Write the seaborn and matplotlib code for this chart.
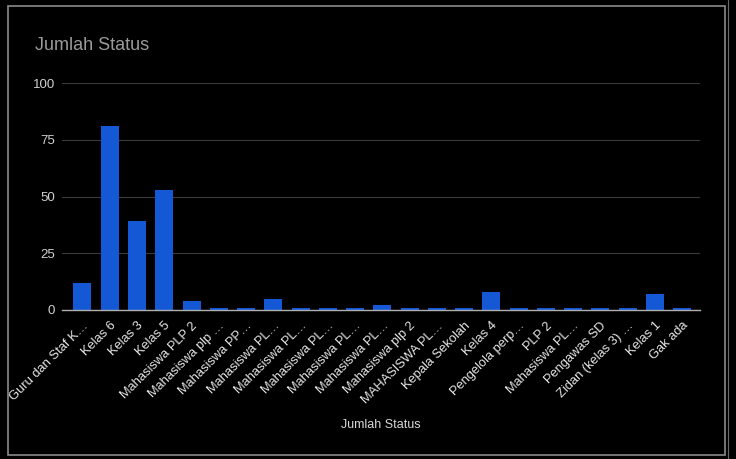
import matplotlib
matplotlib.use("Agg")
import matplotlib.pyplot as plt
import seaborn as sns
import pandas as pd
import numpy as np
from matplotlib.patches import Rectangle

categories = [
    "Guru dan Staf K…", "Kelas 6", "Kelas 3", "Kelas 5", "Mahasiswa PLP 2",
    "Mahasiswa plp …", "Mahasiswa PP…", "Mahasiswa PL…", "Mahasiswa PL…",
    "Mahasiswa PL…", "Mahasiswa PL…", "Mahasiswa PL…", "Mahasiswa plp 2",
    "MAHASISWA PL…", "Kepala Sekolah", "Kelas 4", "Pengelola perp…", "PLP 2",
    "Mahasiswa PL…", "Pengawas SD", "Zidan (kelas 3) …", "Kelas 1", "Gak ada",
]
values = [12, 81, 39, 53, 4, 1, 1, 5, 1, 1, 1, 2, 1, 1, 1, 8, 1, 1, 1, 1, 1, 7, 1]
y_ticks = [0, 25, 50, 75, 100]

df = pd.DataFrame({"idx": [str(i) for i in range(len(categories))], "val": values})

sns.set_theme(style="dark")
plt.rcParams['font.family'] = ['Liberation Sans', 'DejaVu Sans']

fig = plt.figure(figsize=(7.36, 4.59), dpi=100, facecolor="black")
ax = fig.add_axes([62/736, 1-310/459, (700-62)/736, (310-83)/459])
ax.set_facecolor("black")

sns.barplot(data=df, x="idx", y="val", color="#1558d6", saturation=1,
            width=0.66, ax=ax, order=df["idx"].tolist(), linewidth=0,
            edgecolor="none")

ax.set_ylim(0, 100)
ax.set_xlim(-0.75, len(categories) - 0.35)
ax.set_yticks(y_ticks)
ax.set_yticklabels([str(t) for t in y_ticks], color="#d0d0d0", fontsize=9.5)
ax.set_xticks(range(len(categories)))
ax.set_xticklabels(categories, rotation=45, ha="right", rotation_mode="anchor",
                   color="#e6e6e6", fontsize=9.3)
ax.tick_params(axis="both", length=0, pad=5)
ax.tick_params(axis="x", pad=7)
ax.grid(axis="y", color="#3a3a3a", linewidth=0.8)
ax.grid(axis="x", visible=False)
ax.set_axisbelow(True)
for s in ["top", "right", "left"]:
    ax.spines[s].set_visible(False)
ax.spines["bottom"].set_color("#b0b0b0")
ax.spines["bottom"].set_linewidth(1)
ax.set_ylabel("")
ax.set_xlabel("")

fig.text(381/736, 1-425/459, "Jumlah Status", color="#d8d8d8", fontsize=9,
         ha="center", va="center")
fig.text(35/736, 1-46/459, "Jumlah Status", color="#9a9a9a", fontsize=13,
         ha="left", va="center")

fig.patches.append(Rectangle((8/736, 1-455/459), (725-8)/736, (455-6)/459,
                             transform=fig.transFigure, fill=False,
                             edgecolor="#8a8a8a", linewidth=1.2))
fig.lines.append(plt.Line2D([728/736, 728/736], [0, 1], transform=fig.transFigure,
                            color="#6a6a6a", linewidth=0.8))

fig.savefig("out.png", dpi=100, facecolor="black")
